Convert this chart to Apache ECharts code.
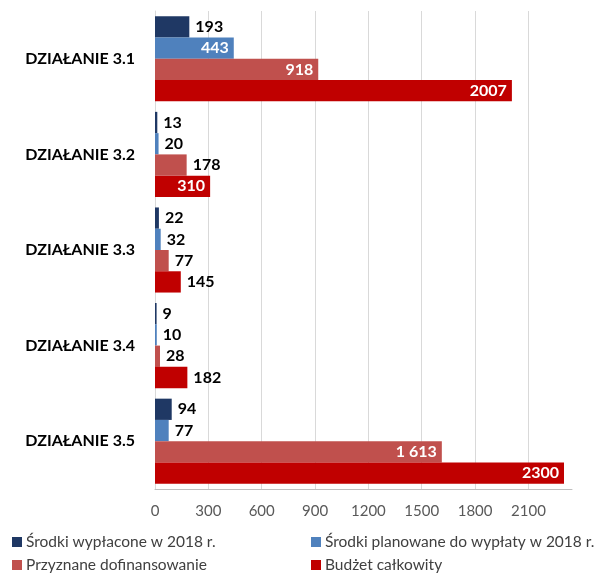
<!DOCTYPE html>
<html><head><meta charset="utf-8">
<script src="https://cdn.jsdelivr.net/npm/echarts@6/dist/echarts.min.js"></script>
<style>html,body{margin:0;padding:0;background:#fff}#c{width:603px;height:574px}</style>
</head><body><div id="c"></div>
<script>
const categories = ['DZIAŁANIE 3.1','DZIAŁANIE 3.2','DZIAŁANIE 3.3','DZIAŁANIE 3.4','DZIAŁANIE 3.5'];
const seriesNames = ['Środki wypłacone w 2018 r.','Środki planowane do wypłaty w 2018 r.','Przyznane dofinansowanie','Budżet całkowity'];
const paid = [193, 13, 22, 9, 94];
const planned = [443, 20, 32, 10, 77];
const granted = [918, 178, 77, 28, 1613];
const budget = [2007, 310, 145, 182, 2300];
const xTicks = [0, 300, 600, 900, 1200, 1500, 1800, 2100];

const colors = ['#1f3864', '#4f81bd', '#c0504d', '#c00000'];
const values = [paid, planned, granted, budget];
const useSep = [false, false, true, false];
const FONT = 'Lato, "Open Sans", sans-serif';

function fmt(v, sep){ return sep ? String(v).replace(/\B(?=(\d{3})+(?!\d))/g, ' ') : String(v); }

const series = values.map((arr, si) => ({
  name: seriesNames[si],
  type: 'bar',
  barGap: '0%',
  barCategoryGap: '11%',
  itemStyle: { color: colors[si] },
  data: arr.map(v => {
    const inside = v > 250;
    return {
      value: v,
      label: {
        show: true,
        position: inside ? 'insideRight' : 'right',
        distance: inside ? 5 : 6,
        color: inside ? '#ffffff' : '#000000',
        fontWeight: 'bold',
        fontSize: 16,
        fontFamily: FONT,
        formatter: () => fmt(v, useSep[si])
      }
    };
  })
}));

const legendPos = [
  {left: 12, top: 534},
  {left: 311, top: 534},
  {left: 12, top: 557},
  {left: 311, top: 557}
];
const legends = seriesNames.map((n, i) => ({
  data: [n],
  left: legendPos[i].left,
  top: legendPos[i].top,
  padding: 0,
  itemWidth: 10, itemHeight: 10, itemGap: 4,
  icon: 'rect',
  textStyle: { color: '#404040', fontSize: 15.5, fontFamily: FONT, padding: [0,0,0,-1] }
}));

const chart = echarts.init(document.getElementById('c'), null, {renderer: 'canvas'});
chart.setOption({
  animation: false,
  color: colors,
  legend: legends,
  grid: { left: 155, right: 31, top: 11, bottom: 85, containLabel: false },
  xAxis: {
    type: 'value', min: 0, max: 2345, interval: 300,
    axisLine: { show: true, lineStyle: { color: '#bfbfbf' } },
    axisTick: { show: false },
    axisLabel: { color: '#595959', fontSize: 15, fontFamily: FONT, margin: 15, showMaxLabel: false,
      formatter: v => xTicks.includes(v) ? String(v) : '' },
    splitLine: { show: true, showMaxLine: false, lineStyle: { color: '#d9d9d9' } }
  },
  yAxis: {
    type: 'category', data: categories, inverse: true,
    axisLine: { show: true, lineStyle: { color: '#d9d9d9' } },
    axisTick: { show: false },
    axisLabel: { color: '#000000', fontWeight: 'bold', fontSize: 16, fontFamily: FONT, margin: 20 }
  },
  series: series
});
</script>
</body></html>
